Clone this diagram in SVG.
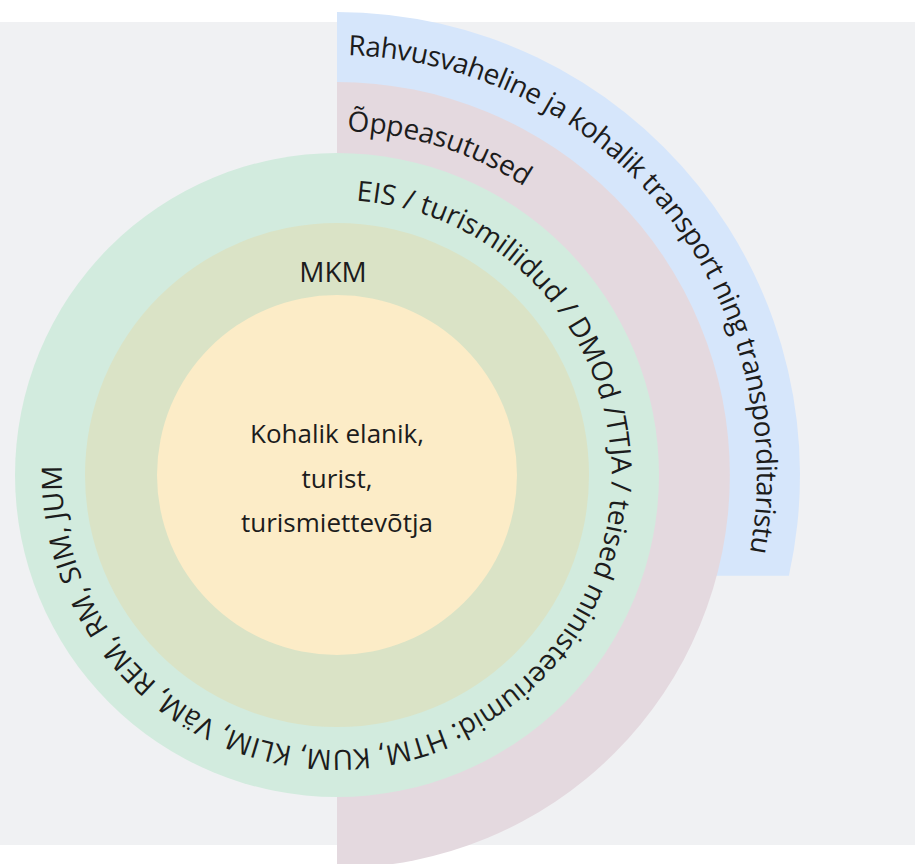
<svg xmlns="http://www.w3.org/2000/svg" width="915" height="864" viewBox="0 0 915 864">
  <style>
    .t { font-family: "Open Sans", "Noto Sans", "DejaVu Sans", sans-serif; fill: #1c1c1c; }
    .arc { font-size: 28px; }
    .ctr { font-size: 26px; text-anchor: middle; }
  </style>
  <defs>
    <path id="pBlue" d="M348,55.2 A420,420 0 0 1 700.7,685"/>
    <path id="pPink" d="M347.2,131.2 A344,344 0 0 1 681,475"/>
    <path id="pGreen" d="M356.2,200.7 A275,275 0 0 1 337,750 A275,275 0 0 1 126.3,298.2"/>
  </defs>
  <rect x="0" y="0" width="915" height="864" fill="#ffffff"/>
  <rect x="0" y="22" width="915" height="823" fill="#f0f1f3"/>

  <g id="transport">
    <path d="M337,12 A463,463 0 0 1 788.9,575.7 L337,575.7 Z" fill="#d6e6fb"/>
    <text class="t arc" letter-spacing="-0.55"><textPath href="#pBlue">Rahvusvaheline ja kohalik transport ning transporditaristu</textPath></text>
  </g>

  <g id="oppeasutused">
    <path d="M337,82 A393,393 0 0 1 337,868 Z" fill="#e4d9df"/>
    <text class="t arc" letter-spacing="-0.3"><textPath href="#pPink">Õppeasutused</textPath></text>
  </g>

  <g id="partnerid">
    <circle cx="337" cy="475" r="322" fill="#d2ebde"/>
    <text class="t arc"><textPath href="#pGreen">EIS / turismiliidud / DMOd /TTJA / teised ministeeriumid: HTM, KUM, KLIM, VäM, REM, RM, SIM, JUM</textPath></text>
  </g>

  <g id="mkm">
    <circle cx="337" cy="475" r="252" fill="#dae3c6"/>
    <text class="t" x="333" y="282" font-size="28" text-anchor="middle">MKM</text>
  </g>

  <g id="kese">
    <circle cx="337" cy="475" r="180" fill="#fcecc7"/>
    <text class="t ctr" x="337" y="443">Kohalik elanik,</text>
    <text class="t ctr" x="337" y="488">turist,</text>
    <text class="t ctr" x="337" y="532">turismiettevõtja</text>
  </g>

  <g id="connectors"/>
</svg>
